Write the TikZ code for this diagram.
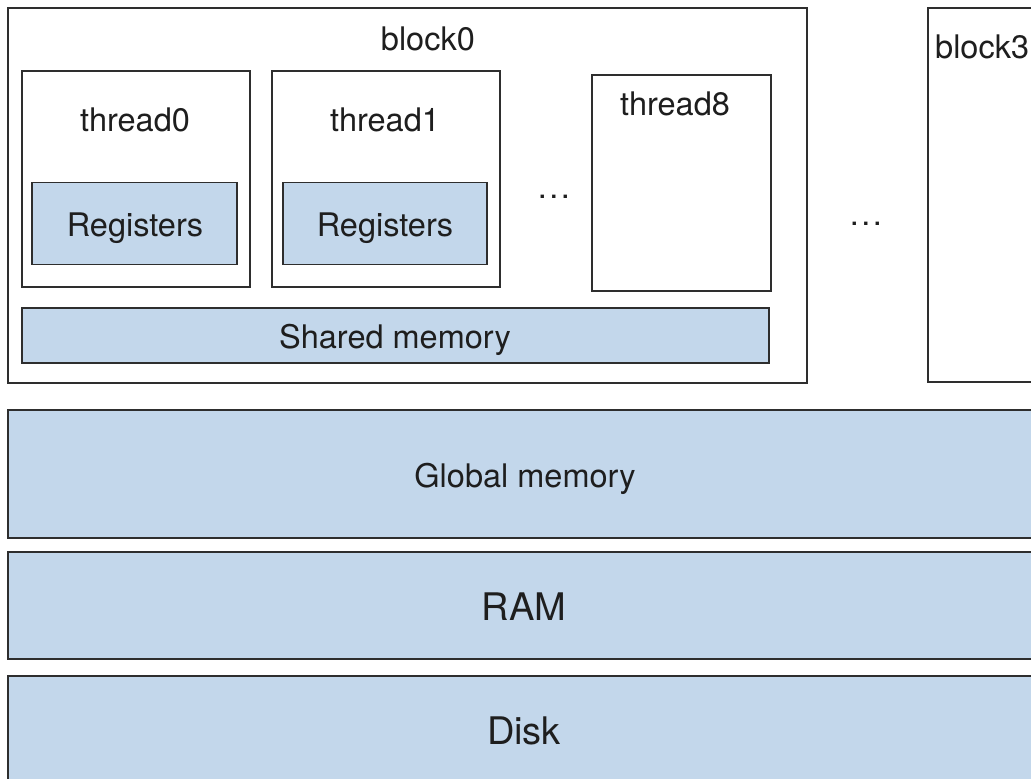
\documentclass[tikz,border=0pt]{standalone}
\usepackage{fontspec}
\setmainfont{TeX Gyre Heros}
\definecolor{memfill}{HTML}{C3D7EB}
\definecolor{edge}{HTML}{2E2E2E}
\definecolor{txt}{HTML}{1E1E1E}
\newcommand{\mydots}{.\kern2.5pt.\kern2.5pt.}
\begin{document}
\begin{tikzpicture}[x=1pt,y=-1pt,
  box/.style={draw=edge,line width=1.6pt,fill=white,inner sep=0pt,outer sep=0pt},
  mem/.style={box,fill=memfill},
  lbl/.style={text=txt,font=\fontsize{32.5}{38}\selectfont,inner sep=0pt},
  biglbl/.style={text=txt,font=\fontsize{38}{44}\selectfont,inner sep=0pt}]
\useasboundingbox (0,0) rectangle (1031,779);
% blocks
\node[box,minimum width=799pt,minimum height=375pt] (block0) at (407.5,195.5) {};
\node[box,minimum width=140pt,minimum height=374pt,anchor=north west] (block3) at (928,8) {};
\node[lbl] (block0t) at (428,39) {block0};
\node[lbl,anchor=west] (block3t) at (935,47) {block3};
% threads
\node[box,minimum width=228pt,minimum height=216pt] (thread0) at (136,179) {};
\node[box,minimum width=228pt,minimum height=216pt] (thread1) at (386,179) {};
\node[box,minimum width=179pt,minimum height=216pt] (thread8) at (681.5,183) {};
\node[lbl] (thread0t) at (135,120) {thread0};
\node[lbl] (thread1t) at (385,120) {thread1};
\node[lbl] (thread8t) at (675,104) {thread8};
% registers
\node[mem,minimum width=205pt,minimum height=82pt] (reg0) at (134.5,223.5) {};
\node[mem,minimum width=204pt,minimum height=82pt] (reg1) at (385,223.5) {};
\node[lbl] at (135,228) {Registers};
\node[lbl] at (385,228) {Registers};
% dots
\node[lbl] (dots1) at (554,197) {\mydots};
\node[lbl] (dots2) at (866,224) {\mydots};
% shared memory
\node[mem,minimum width=747pt,minimum height=55pt] (shared) at (395.5,335.5) {};
\node[lbl] at (395,340) {Shared memory};
% global memory, RAM, Disk
\node[mem,minimum width=1040pt,minimum height=128pt,anchor=north west] (global) at (8,410) {};
\node[lbl] at (525,479) {Global memory};
\node[mem,minimum width=1040pt,minimum height=107pt,anchor=north west] (ram) at (8,552) {};
\node[biglbl] at (524,607) {RAM};
\node[mem,minimum width=1040pt,minimum height=120pt,anchor=north west] (disk) at (8,676) {};
\node[biglbl] at (524,731) {Disk};
\end{tikzpicture}
\end{document}
